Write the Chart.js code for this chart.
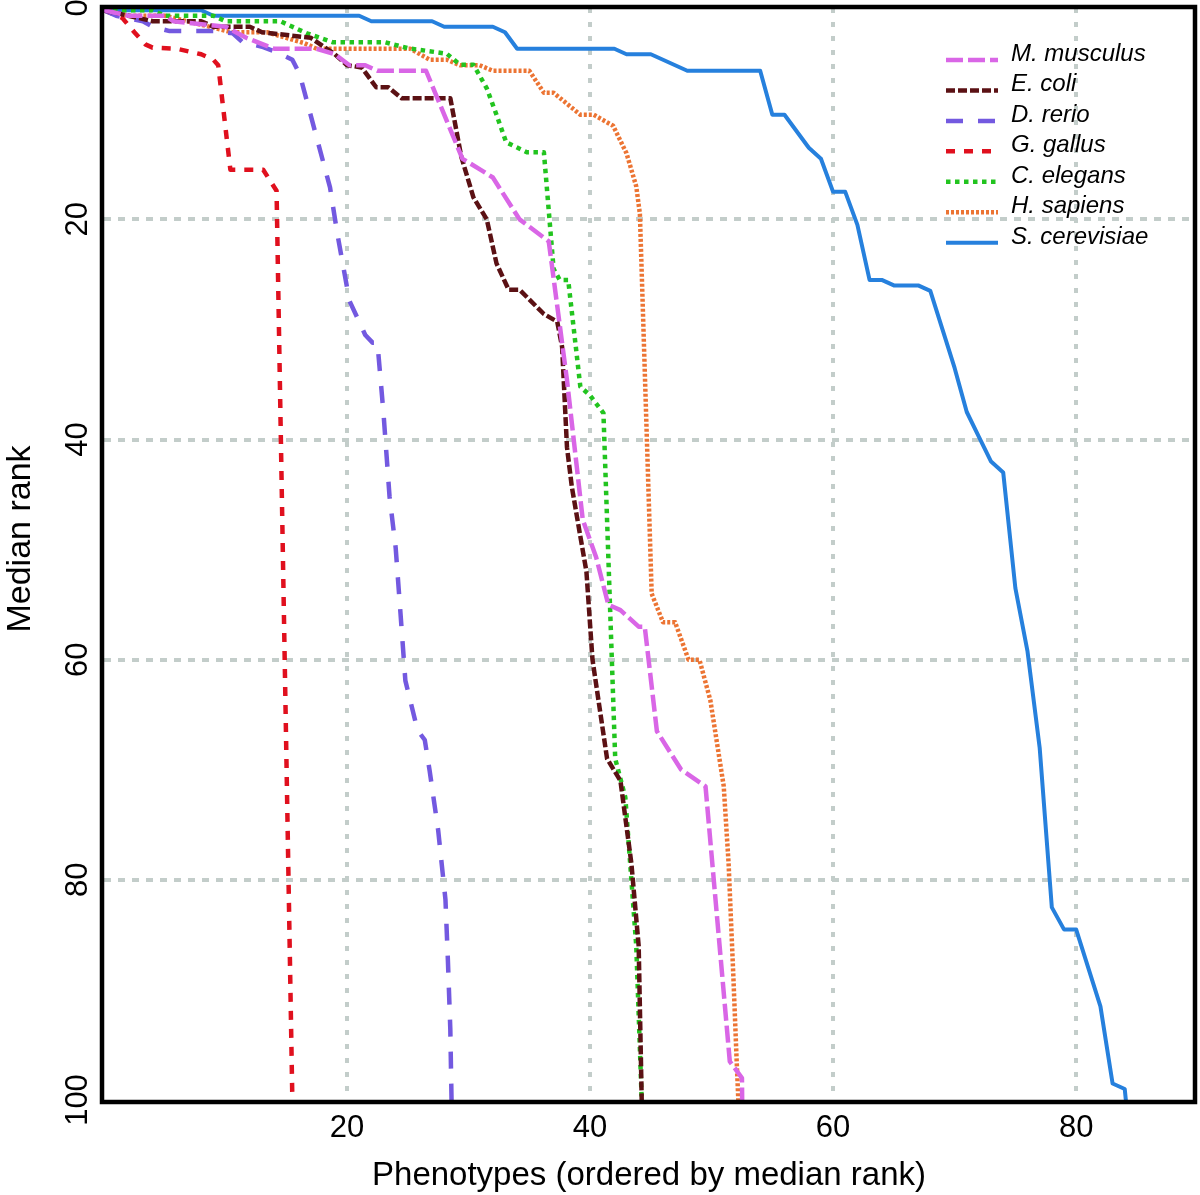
<!DOCTYPE html>
<html>
<head>
<meta charset="utf-8">
<title>Median rank by phenotype</title>
<script src="https://cdn.jsdelivr.net/npm/chart.js@4.4.1/dist/chart.umd.min.js"></script>
<style>
  html, body { margin: 0; padding: 0; background: #fff; }
  #wrap { width: 1200px; height: 1195px; }
</style>
</head>
<body>
<div id="wrap"><canvas id="rankChart" width="1200" height="1195"></canvas></div>
<script>
// tick values
const xTicks = [20, 40, 60, 80];
const yGridTicks = [20, 40, 60, 80];
const yTickLabels = [0, 20, 40, 60, 80, 100];

// species names, legend order
const speciesNames = [
  "M. musculus",
  "E. coli",
  "D. rerio",
  "G. gallus",
  "C. elegans",
  "H. sapiens",
  "S. cerevisiae",
];

// vertices (x = phenotype index, y = median rank)
const musculusX = [0, 2, 5, 5.7, 10, 11.7, 14, 17.5, 19, 20.2, 21.5, 22.5, 26.5, 29.5, 31, 32, 34.2, 36.6, 38.1, 39.4, 40.5, 41.5, 42.5, 44, 44.5, 45.5, 47.5, 49.5, 51.5, 52.5, 52.6];
const musculusY = [1, 1.5, 1.5, 2, 2.5, 3.5, 4.5, 4.5, 5, 6, 6, 6.5, 6.5, 14.5, 15.5, 16.2, 20, 22, 34.6, 47.3, 50.7, 55, 55.5, 57, 57, 66.5, 70, 71.5, 96.5, 98, 110];

const coliX = [0, 2, 4, 8, 9, 12, 13, 17, 19, 20, 21.2, 22.4, 23.4, 24.5, 28.5, 29.4, 30.4, 31.5, 32.3, 33.3, 34.2, 36.2, 37.3, 37.7, 38.1, 38.5, 39.2, 39.7, 40.2, 41.4, 42.5, 43.4, 44, 44.25, 44.5];
const coliY = [1, 1.5, 2, 2, 2.5, 2.5, 3, 3.5, 5, 6, 6.2, 8, 8, 9, 9, 14.3, 18, 20, 24, 26.4, 26.4, 28.6, 29.3, 31.6, 40.7, 44.3, 48.8, 52, 60, 69, 71, 78.5, 86, 100, 120];

const rerioX = [0, 1, 3.2, 4, 5.4, 9.3, 10.6, 11.4, 13.1, 14.2, 15.5, 16.1, 18.6, 19.2, 20.2, 21.5, 22.1, 22.5, 23, 23.5, 24, 24.4, 24.8, 25.2, 25.8, 26.4, 26.8, 27.5, 28.1, 28.3, 28.5, 28.6, 28.7];
const rerioY = [1, 1.5, 2, 2.5, 2.9, 2.9, 3.1, 3.9, 4.35, 4.8, 5.5, 6.8, 17.1, 21.3, 27.4, 30.5, 31.2, 31.2, 37.6, 45.2, 49.8, 55.8, 61.9, 63.7, 66.4, 67.3, 70.1, 75.5, 81.8, 87.3, 93.6, 100, 110];

const gallusX = [0, 1.5, 2.5, 3.4, 4, 6, 8, 9, 9.4, 10.4, 13.1, 14.2, 15.5, 15.6];
const gallusY = [1, 1.7, 3, 4.1, 4.4, 4.5, 5, 5.5, 6, 15.5, 15.5, 17.4, 100, 110];

const elegansX = [0, 4, 5, 9, 10, 14.5, 16.7, 18.8, 23.1, 25, 28.2, 29.3, 30.4, 31.5, 32.3, 33.1, 34.8, 36.2, 37, 37.5, 38.2, 39.2, 40, 41.1, 42.07, 42.9, 43.8, 44.25, 44.5];
const elegansY = [1, 1, 1.5, 1.5, 2, 2, 3.1, 3.9, 3.9, 4.45, 4.95, 5.95, 5.95, 8.1, 10.5, 13, 13.9, 13.9, 24.5, 25.5, 25.5, 35.2, 36, 37.6, 69, 72.5, 86, 100, 120];

const sapiensX = [0, 2, 5, 10.5, 13.4, 16.5, 17.5, 25.2, 26.8, 28.2, 29.3, 30.9, 32, 35, 36.2, 37, 39.2, 40.3, 41.9, 43, 43.8, 44.1, 45.07, 46, 47, 48.1, 49, 49.9, 51, 51.4, 51.8, 52.07, 52.2, 52.4];
const sapiensY = [1, 1.5, 1.5, 3, 3, 4, 4.5, 4.5, 5.5, 5.5, 6, 6, 6.5, 6.5, 8.5, 8.5, 10.5, 10.5, 11.5, 14, 17, 19.5, 54, 56.6, 56.6, 60, 60, 63.7, 71.5, 78.5, 89, 96.6, 100, 120];

const cerevisiaeX = [0, 8, 9, 21, 22, 27, 28, 32, 33, 34, 42, 43, 45, 48, 54, 55, 56, 58, 59, 60, 61, 62, 63, 64, 65, 67, 68, 69, 70, 71, 72, 73, 74, 75, 76, 77, 78, 79, 80, 82, 83, 84, 85];
const cerevisiaeY = [1, 1, 1.5, 1.5, 2, 2, 2.5, 2.5, 3, 4.5, 4.5, 5, 5, 6.5, 6.5, 10.5, 10.5, 13.5, 14.5, 17.5, 17.5, 20.5, 25.5, 25.5, 26, 26, 26.5, 30, 33.5, 37.5, 39.75, 42, 43, 53.5, 59.25, 68, 82.5, 84.5, 84.5, 91.5, 98.5, 99, 110];

const seriesX = [musculusX, coliX, rerioX, gallusX, elegansX, sapiensX, cerevisiaeX];
const seriesY = [musculusY, coliY, rerioY, gallusY, elegansY, sapiensY, cerevisiaeY];

// line styles
const lineColors = ["#d966e6", "#5b1114", "#7359e0", "#e0101e", "#22c41f", "#ec7433", "#2680dd"];
const lineDashes = [[17, 5], [9, 3], [17, 15], [9, 9], [4.5, 4.5], [3, 2], []];
const lineWidths = [4.5, 4.5, 4.5, 4.5, 4.5, 4.5, 4];

const FONT = "'Liberation Sans', Arial, Helvetica, sans-serif";
const gridColor = "#c3cdca";

const datasets = speciesNames.map((name, i) => ({
  label: name,
  data: seriesX[i].map((x, j) => ({ x, y: seriesY[i][j] })),
  borderColor: lineColors[i],
  borderDash: lineDashes[i],
  borderWidth: lineWidths[i],
  borderJoinStyle: "round",
  pointRadius: 0,
  tension: 0,
  fill: false,
  clip: 0,
}));

const frameAndLabels = {
  id: "frameAndLabels",
  afterDatasetsDraw(chart) {
    const { ctx, chartArea: a } = chart;

    // box round the plot
    ctx.save();
    ctx.strokeStyle = "#000";
    ctx.lineWidth = 4.5;
    ctx.strokeRect(a.left - 2, a.top - 1, a.right - a.left + 3, a.bottom - a.top + 3);
    ctx.restore();

    // y labels and title, turned like the R axis
    const yScale = chart.scales.y;
    ctx.save();
    ctx.fillStyle = "#000";
    ctx.textAlign = "center";
    ctx.textBaseline = "middle";
    ctx.font = `31px ${FONT}`;
    yTickLabels.forEach((v) => {
      const py = Math.max(yScale.getPixelForValue(v), a.top);
      ctx.save();
      ctx.translate(78, py);
      ctx.rotate(-Math.PI / 2);
      ctx.fillText(String(v), 0, 0);
      ctx.restore();
    });
    ctx.font = `34px ${FONT}`;
    ctx.translate(21, 539);
    ctx.rotate(-Math.PI / 2);
    ctx.fillText("Median rank", 0, 0);
    ctx.restore();

    // legend inside the plot, top right
    const lx0 = 946;
    const lx1 = 998;
    const ly0 = 60;
    const lstep = 30.45;
    chart.data.datasets.forEach((ds, i) => {
      const ly = ly0 + i * lstep;
      ctx.save();
      ctx.strokeStyle = ds.borderColor;
      ctx.lineWidth = ds.borderWidth;
      ctx.setLineDash(ds.borderDash);
      ctx.beginPath();
      ctx.moveTo(lx0, ly);
      ctx.lineTo(lx1, ly);
      ctx.stroke();
      ctx.restore();

      ctx.save();
      ctx.fillStyle = "#000";
      ctx.font = `italic 24px ${FONT}`;
      ctx.textAlign = "left";
      ctx.textBaseline = "alphabetic";
      ctx.fillText(ds.label, 1011, ly + 1);
      ctx.restore();
    });
  },
};

new Chart(document.getElementById("rankChart"), {
  type: "line",
  data: { datasets },
  options: {
    responsive: false,
    animation: false,
    layout: { padding: { top: 8, right: 6, bottom: 0, left: 0 } },
    plugins: {
      legend: { display: false },
      tooltip: { enabled: false },
    },
    scales: {
      x: {
        type: "linear",
        min: 0,
        max: 89.7,
        afterBuildTicks: (scale) => {
          scale.ticks = xTicks.map((v) => ({ value: v }));
        },
        afterFit: (scale) => {
          scale.height = 95;
        },
        grid: { color: gridColor, lineWidth: 4, drawTicks: false },
        border: { display: false, dash: [5, 9] },
        ticks: {
          color: "#000",
          font: { family: FONT, size: 31 },
          padding: 10,
          maxRotation: 0,
          autoSkip: false,
        },
        title: {
          display: true,
          text: "Phenotypes (ordered by median rank)",
          color: "#000",
          font: { family: FONT, size: 33, lineHeight: 1 },
          padding: { top: 0, bottom: 2.5 },
        },
      },
      y: {
        type: "linear",
        min: 0.8,
        max: 100,
        reverse: true,
        afterBuildTicks: (scale) => {
          scale.ticks = yGridTicks.map((v) => ({ value: v }));
        },
        afterFit: (scale) => {
          scale.width = 104;
        },
        grid: { color: gridColor, lineWidth: 4, drawTicks: false },
        border: { display: false, dash: [7, 7] },
        ticks: { display: false },
        title: { display: false },
      },
    },
  },
  plugins: [frameAndLabels],
});
</script>
</body>
</html>
